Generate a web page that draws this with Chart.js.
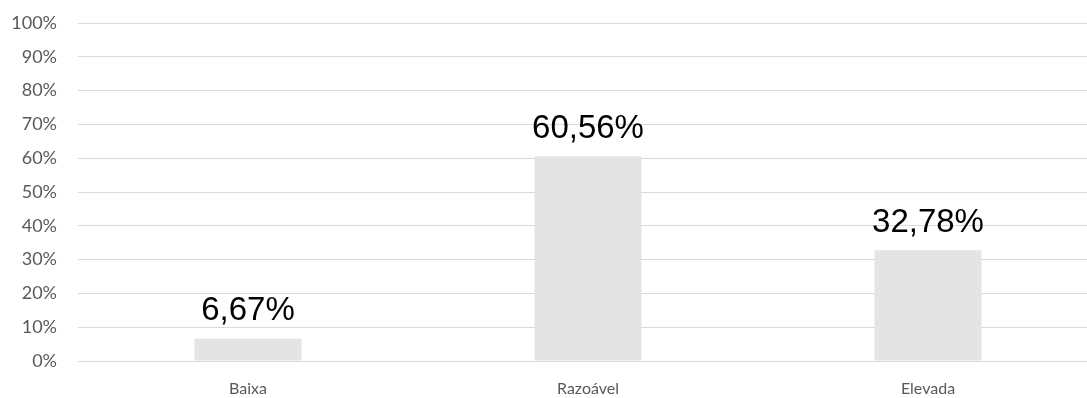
<!DOCTYPE html>
<html>
<head>
<meta charset="utf-8">
<script src="https://cdn.jsdelivr.net/npm/chart.js@4.4.1/dist/chart.umd.min.js"></script>
<style>
  html, body { margin: 0; padding: 0; background: #fff; overflow: hidden; }
  #wrap { width: 1098px; height: 398px; }
</style>
</head>
<body>
<div id="wrap"><canvas id="nivelChart" width="1098" height="398"></canvas></div>
<script>
const categories = ['Baixa', 'Razoável', 'Elevada'];
const percentValues = [6.67, 60.56, 32.78];
const yTickMax = 100;
const yTickStep = 10;

const barColor = '#e4e4e4';
const gridColor = '#d9d9d9';
const labelColor = '#595959';

const formatPct = function (value) {
    return value.toFixed(2).replace('.', ',') + '%';
};

// rótulos grandes por cima das barras
const valueLabels = {
    id: 'valueLabels',
    afterDatasetsDraw: function (chart) {
        const ctx = chart.ctx;
        const meta = chart.getDatasetMeta(0);
        ctx.save();
        ctx.font = '33px "Liberation Sans", Arial, sans-serif';
        ctx.fillStyle = '#000000';
        ctx.textAlign = 'center';
        ctx.textBaseline = 'alphabetic';
        meta.data.forEach(function (bar, i) {
            ctx.fillText(formatPct(percentValues[i]), bar.x, bar.y - 18);
        });
        ctx.restore();
    }
};

new Chart(document.getElementById('nivelChart'), {
    type: 'bar',
    data: {
        labels: categories,
        datasets: [{
            data: percentValues,
            backgroundColor: barColor,
            borderWidth: 0,
            barPercentage: 0.315,
            categoryPercentage: 1
        }]
    },
    options: {
        responsive: false,
        animation: false,
        layout: { padding: { top: 23, left: 0, right: 0, bottom: 0 } },
        plugins: { legend: { display: false }, tooltip: { enabled: false } },
        scales: {
            x: {
                grid: { display: false },
                border: { display: false },
                ticks: {
                    color: labelColor,
                    font: { family: 'Lato', size: 16 },
                    padding: 10
                },
                afterFit: function (scale) { scale.height = 37; }
            },
            y: {
                min: 0,
                max: yTickMax,
                grid: { color: gridColor, lineWidth: 1, drawTicks: false },
                border: { display: false },
                ticks: {
                    stepSize: yTickStep,
                    color: labelColor,
                    font: { family: 'Lato', size: 18 },
                    padding: 21,
                    callback: function (value) { return value + '%'; }
                },
                afterFit: function (scale) {
                    scale.width = 78;
                    scale.paddingTop = 0;
                    scale.paddingBottom = 0;
                }
            }
        }
    },
    plugins: [valueLabels]
});
</script>
</body>
</html>
